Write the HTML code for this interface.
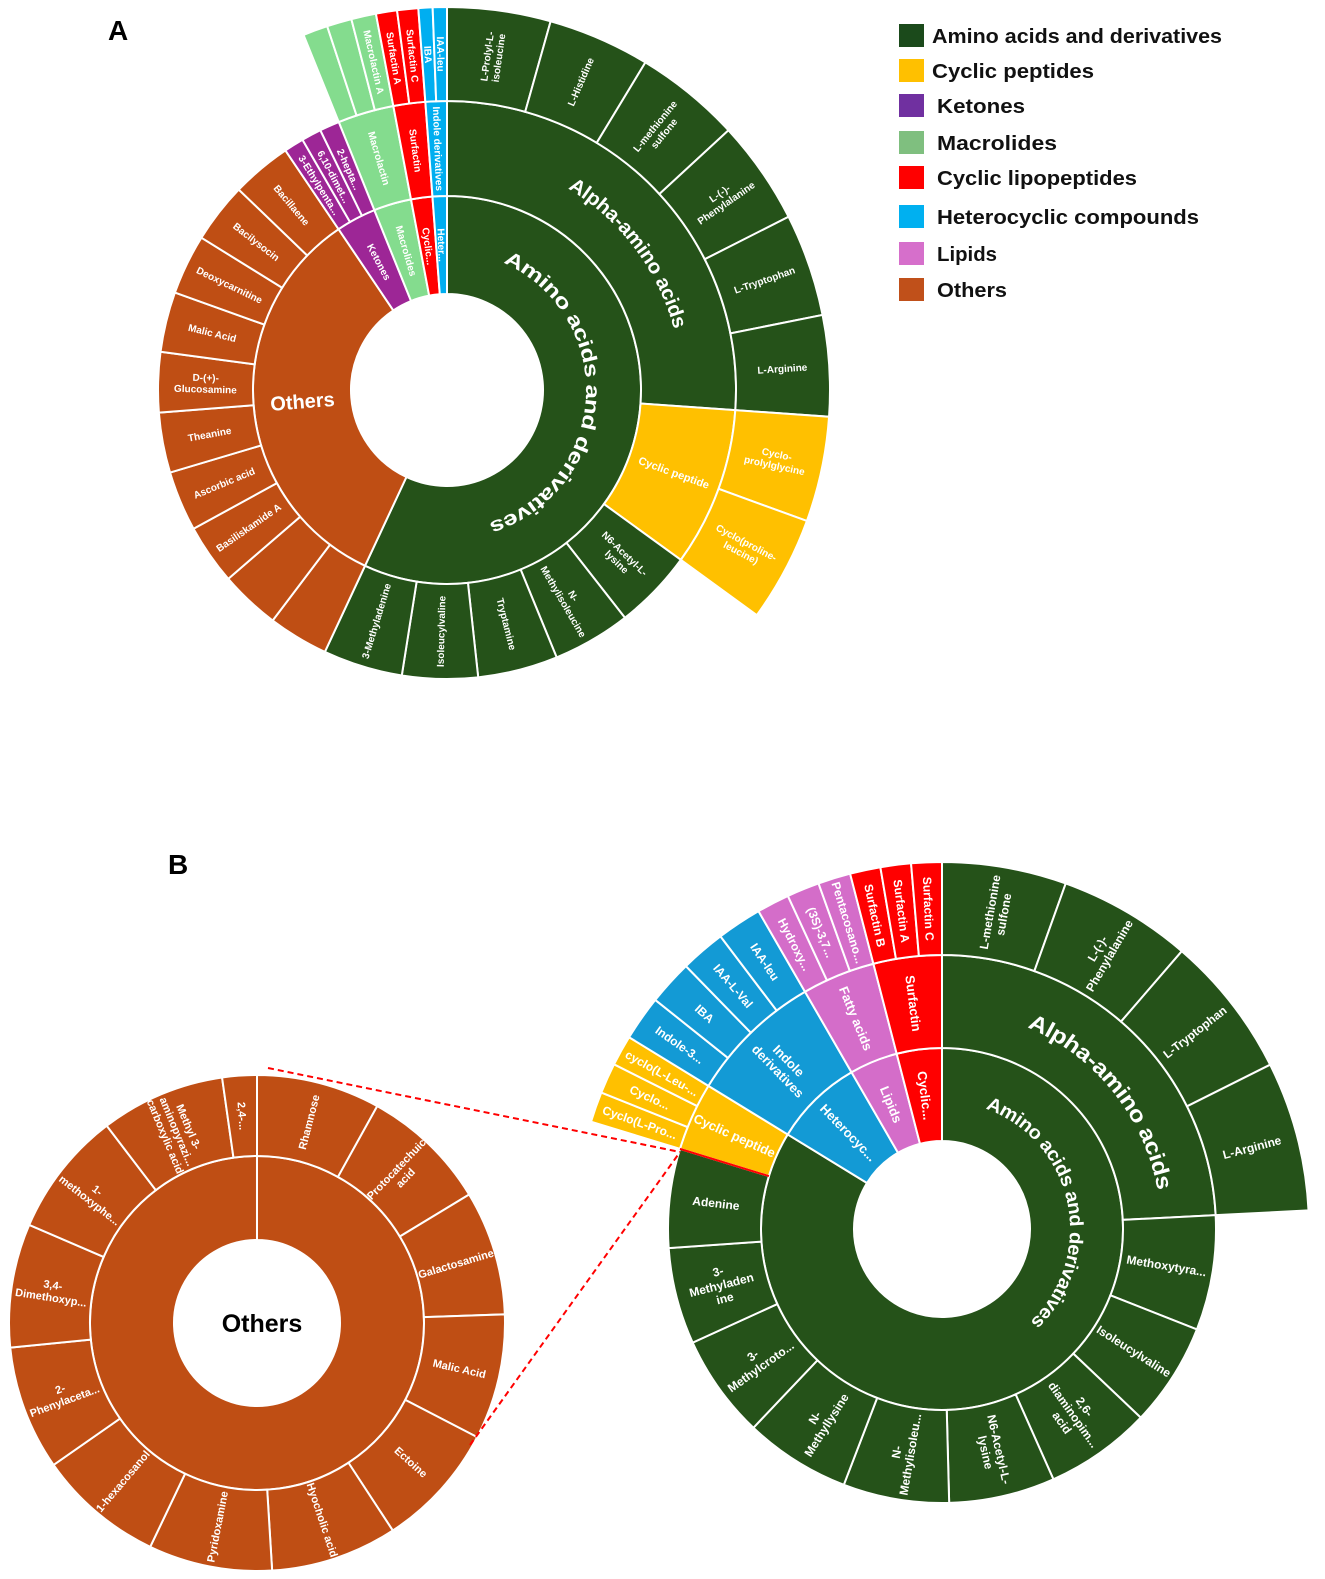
<!DOCTYPE html>
<html><head><meta charset="utf-8"><style>
html,body{margin:0;padding:0;background:#fff;}
svg{display:block;font-family:"Liberation Sans",sans-serif;}
</style></head><body>
<svg id="fig" width="1325" height="1579" viewBox="0 0 1325 1579" xmlns="http://www.w3.org/2000/svg">
<text x="108" y="40" font-size="28" font-weight="bold">A</text>
<text x="168" y="874" font-size="28" font-weight="bold">B</text>
<g id="legend"></g>
<g id="chartA"></g>
<g id="chartB"></g>
<g id="chartC"></g>
<g>
<line x1="268" y1="1068" x2="680" y2="1152" stroke="#f00" stroke-width="2" stroke-dasharray="6,4"/>
<line x1="470" y1="1445" x2="680" y2="1152" stroke="#f00" stroke-width="2" stroke-dasharray="6,4"/>
</g>
</svg>
<script>
// ---------- Legend data ----------
const legendNames = ['Amino acids and derivatives','Cyclic peptides','Ketones','Macrolides','Cyclic lipopeptides','Heterocyclic compounds','Lipids','Others'];
const legendColors = ['#1b4a1b','#ffc000','#7030a0','#7fbf7f','#ff0000','#00b0f0','#d66fcb','#c0501a'];

// ---------- Chart A data ----------
const aLeafNames = ['L-Prolyl-L-\nisoleucine','L-Histidine','L-methionine\nsulfone','L-(-)-\nPhenylalanine','L-Tryptophan','L-Arginine',
 'Cyclo-\nprolylglycine','Cyclo(proline-\nleucine)',
 'N6-Acetyl-L-\nlysine','N-\nMethylisoleucine','Tryptamine','Isoleucylvaline','3-Methyladenine',
 '','','Basiliskamide A','Ascorbic acid','Theanine','D-(+)-\nGlucosamine','Malic Acid','Deoxycarnitine','Bacilysocin','Bacillaene',
 '3-Ethylpenta...','6,10-dimet...','2-hepta...',
 '','','Macrolactin A',
 'Surfactin A','Surfactin C',
 'IBA','IAA-leu'];
const aLeafValues = [15.7,15.5,16.1,15.8,15.6,15.3, 16,16, 16,15.7,16.1,15.2,16,
 12.1,12.1,12.1,12.1,12.1,12.1,12.1,12.1,12.1,12.1, 4,4,4, 3.77,3.77,3.76, 3.2,3.2, 2.15,2.15];
const aLeafParents = ['AA|Alpha-amino acids','AA|Alpha-amino acids','AA|Alpha-amino acids','AA|Alpha-amino acids','AA|Alpha-amino acids','AA|Alpha-amino acids',
 'AA|Cyclic peptide','AA|Cyclic peptide','AA','AA','AA','AA','AA',
 'Others','Others','Others','Others','Others','Others','Others','Others','Others','Others',
 'Ketones','Ketones','Ketones','Macrolides|Macrolactin','Macrolides|Macrolactin','Macrolides|Macrolactin',
 'Cyclic...|Surfactin','Cyclic...|Surfactin','Heter...|Indole derivatives','Heter...|Indole derivatives'];

// ---------- Chart B data ----------
const bLeafNames = ['L-methionine\nsulfone','L-(-)-\nPhenylalanine','L-Tryptophan','L-Arginine',
 'Methoxytyra...','Isoleucylvaline','2,6-\ndiaminopim...\nacid','N6-Acetyl-L-\nlysine','N-\nMethylisoleu...','N-\nMethyllysine','3-\nMethylcroto...','3-\nMethyladen\nine','Adenine',
 'Cyclo(L-Pro...','Cyclo...','cyclo(L-Leu-...',
 'Indole-3...','IBA','IAA-L-Val','IAA-leu',
 'Hydroxy...','(3S)-3,7...','Pentacosano...',
 'Surfactin B','Surfactin A','Surfactin C'];
const bLeafValues = [19.7,21.1,22.6,23.7, 24.4,22,22.5,22.5,22.5,22.5,22,20.5,21, 4.83,4.83,4.84, 7.125,7.125,7.125,7.125, 5.17,5.17,5.16, 4.83,4.83,4.84];
const bLeafParents = ['AA|Alpha-amino acids','AA|Alpha-amino acids','AA|Alpha-amino acids','AA|Alpha-amino acids',
 'AA','AA','AA','AA','AA','AA','AA','AA','AA',
 'AA|Cyclic peptide','AA|Cyclic peptide','AA|Cyclic peptide',
 'Heterocyc...|Indole\nderivatives','Heterocyc...|Indole\nderivatives','Heterocyc...|Indole\nderivatives','Heterocyc...|Indole\nderivatives',
 'Lipids|Fatty acids','Lipids|Fatty acids','Lipids|Fatty acids',
 'Cyclic...|Surfactin','Cyclic...|Surfactin','Cyclic...|Surfactin'];

// ---------- Chart B "Others" data ----------
const cLeafNames = ['Rhamnose','Protocatechuic\nacid','Galactosamine','Malic Acid','Ectoine','Hyocholic acid','Pyridoxamine','1-hexacosanol','2-\nPhenylaceta...','3,4-\nDimethoxyp...','1-\nmethoxyphe...','Methyl 3-\naminopyrazi...\ncarboxylic acid','2,4-...'];
const cLeafValues = [29,29.8,29.2,29.4,29.4,29.7,29,29.6,29.2,29,29.4,29.2,8.1];
const cLeafParents = ['Others','Others','Others','Others','Others','Others','Others','Others','Others','Others','Others','Others','Others'];

const NS='http://www.w3.org/2000/svg';
function mk(tag, attrs, parent){const e=document.createElementNS(NS,tag);for(const k in attrs)e.setAttribute(k,attrs[k]);if(parent)parent.appendChild(e);return e;}
function pol(cx,cy,r,a){const t=a*Math.PI/180;return [cx+r*Math.sin(t), cy-r*Math.cos(t)];}
function arcPath(cx,cy,r0,r1,a0,a1){
  if(a1-a0>=359.99)a1=a0+359.99;
  const lg=(a1-a0)>180?1:0;
  const p1=pol(cx,cy,r1,a0),p2=pol(cx,cy,r1,a1),p3=pol(cx,cy,r0,a1),p4=pol(cx,cy,r0,a0);
  return `M${p1[0]},${p1[1]}A${r1},${r1} 0 ${lg} 1 ${p2[0]},${p2[1]}L${p3[0]},${p3[1]}A${r0},${r0} 0 ${lg} 0 ${p4[0]},${p4[1]}Z`;
}
function slug(s){return (s||'unnamed').toLowerCase().replace(/[^a-z0-9]+/g,'-').replace(/^-|-$/g,'')||'unnamed';}

function drawSunburst(g, cfg, names, values, parents){
  const total=values.reduce((a,b)=>a+b,0);
  const nodes={}; const order=[]; const leaves=[];
  let acc=0;
  for(let i=0;i<names.length;i++){
    const a0=acc/total*360; acc+=values[i]; const a1=acc/total*360;
    const parts=parents[i].split('|');
    for(let d=1; d<=parts.length; d++){
      const key=parts.slice(0,d).join('|');
      if(!nodes[key]){nodes[key]={name:parts[d-1],depth:d,a0:a0,a1:a1,top:parts[0],path:key};order.push(key);}
      else nodes[key].a1=a1;
    }
    leaves.push({name:names[i],depth:parts.length+1,a0:a0,a1:a1,top:parts[0],path:parents[i]});
  }
  const all=order.map(k=>nodes[k]).concat(leaves);
  const R=cfg.R;
  all.forEach(n=>{
    const col = n.path.indexOf('Cyclic peptide')>=0 || n.name==='Cyclic peptide' ? '#ffc000' : cfg.colors[n.top];
    const p=mk('path',{d:arcPath(cfg.cx,cfg.cy,R[n.depth-1],R[n.depth],n.a0,n.a1),fill:col,stroke:'#fff','stroke-width':cfg.sw},g);
    
    
  });
  all.forEach(n=>{
    if(cfg.skip.indexOf(n.name)>=0 || !n.name)return;
    const am=(n.a0+n.a1)/2, rm=(R[n.depth-1]+R[n.depth])/2;
    const pt=pol(cfg.cx,cfg.cy,rm,am);
    const rot= am<180 ? am-90 : am+90;
    const fs=(cfg.sizes[n.name])||cfg.fs;
    const lines=n.name.split('\n');
    const t=mk('text',{x:pt[0],y:pt[1],'font-size':fs,'font-weight':'bold',fill:'#fff','text-anchor':'middle',transform:`rotate(${rot} ${pt[0]} ${pt[1]})`},g);
    
    
    lines.forEach((ln,i)=>{
      const ts=mk('tspan',{x:pt[0],dy:(i===0?(-(lines.length-1)*0.58+0.35):1.15)+'em'},t);
      ts.textContent=ln;
    });
  });
}
function curved(g,id,cx,cy,r,a0,a1,fs,txt,len){
  const p1=pol(cx,cy,r,a0),p2=pol(cx,cy,r,a1);
  const lg=(a1-a0)>180?1:0;
  mk('path',{id:id,d:`M${p1[0]},${p1[1]}A${r},${r} 0 ${lg} 1 ${p2[0]},${p2[1]}`,fill:'none'},g);
  const t=mk('text',{'font-size':fs,'font-weight':'bold',fill:'#fff','dominant-baseline':'central'},g);
  
  
  const tp=mk('textPath',{href:'#'+id,textLength:len,lengthAdjust:'spacingAndGlyphs'},t);
  tp.textContent=txt;
}

// Legend
const lg=document.getElementById('legend');
const legendWidths=[290,162,88,120,200,262,60,70];
legendNames.forEach((nm,i)=>{
  const ys=[36,71,106,143,178,217,254,290];
  const r=mk('rect',{x:899,y:ys[i]-12,width:25,height:23,fill:legendColors[i]},lg);
  
  
  const t=mk('text',{x:(i<2?932:937),y:ys[i]+7,'font-size':20,'font-weight':'bold',fill:'#111',textLength:legendWidths[i],lengthAdjust:'spacingAndGlyphs'},lg);
  
  
  t.textContent=nm;
});

// Chart A
const gA=document.getElementById('chartA');
drawSunburst(gA,{cx:447,cy:390,R:[96,194,289,383],sw:2,fs:10,
  colors:{'AA':'#255219','Others':'#bf4e14','Ketones':'#9d2696','Macrolides':'#84dc8e','Cyclic...':'#ff0000','Heter...':'#00aef0'},
  skip:['AA','Alpha-amino acids'],sizes:{'Others':20,'Cyclic peptide':11}},aLeafNames,aLeafValues,aLeafParents);
curved(gA,'cA1',447,390,145,24,170,20,'Amino acids and derivatives',350);
curved(gA,'cA2',447,390,241,31,80,20,'Alpha-amino acids',185);

// Chart B
const gB=document.getElementById('chartB');
drawSunburst(gB,{cx:942,cy:1229,R:[88,181,274,367],sw:2,fs:12,
  colors:{'AA':'#255219','Heterocyc...':'#139ad5','Lipids':'#d46dc9','Cyclic...':'#ff0000'},
  skip:['AA','Alpha-amino acids'],sizes:{'Cyclic peptide':13,'Indole\nderivatives':13,'Fatty acids':13,'Surfactin':13,'Heterocyc...':13,'Lipids':13,'Cyclic...':13}},bLeafNames,bLeafValues,bLeafParents);
curved(gB,'cB1',942,1229,134,20,135,19,'Amino acids and derivatives',272);
curved(gB,'cB2',942,1229,227,23,82,22,'Alpha-amino acids',225);
(function(){const p1=pol(942,1229,181,287),p2=pol(942,1229,274,287);
 const l=mk('line',{x1:p1[0],y1:p1[1],x2:p2[0],y2:p2[1],stroke:'#f00','stroke-width':2},gB);
 
 })();

// Chart C (Others expanded)
const gC=document.getElementById('chartC');
drawSunburst(gC,{cx:257,cy:1323,R:[83,167,248],sw:2,fs:11,colors:{'Others':'#bf4e14'},skip:['Others'],sizes:{}},cLeafNames,cLeafValues,cLeafParents);
(function(){const t=mk('text',{x:262,y:1324,'font-size':25,'font-weight':'bold',fill:'#000','text-anchor':'middle','dominant-baseline':'central'},gC);
 
 
 t.textContent='Others';})();
</script>
</body></html>
